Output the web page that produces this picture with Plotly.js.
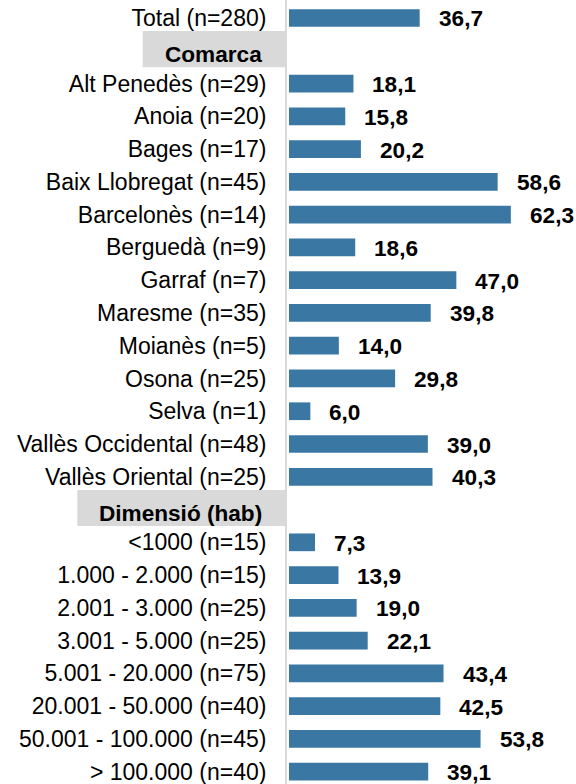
<!DOCTYPE html>
<html>
<head>
<meta charset="utf-8">
<script src="https://cdn.plot.ly/plotly-3.0.1.min.js"></script>
<style>
html,body{margin:0;padding:0;background:#fff;}
#chart{width:576px;height:784px;}
</style>
</head>
<body>
<div id="chart"></div>
<script>
const categories = [
  'Total (n=280)',
  'Comarca',
  'Alt Penedès (n=29)',
  'Anoia (n=20)',
  'Bages (n=17)',
  'Baix Llobregat (n=45)',
  'Barcelonès (n=14)',
  'Berguedà (n=9)',
  'Garraf (n=7)',
  'Maresme (n=35)',
  'Moianès (n=5)',
  'Osona (n=25)',
  'Selva (n=1)',
  'Vallès Occidental (n=48)',
  'Vallès Oriental (n=25)',
  'Dimensió (hab)',
  '<1000 (n=15)',
  '1.000 - 2.000 (n=15)',
  '2.001 - 3.000 (n=25)',
  '3.001 - 5.000 (n=25)',
  '5.001 - 20.000 (n=75)',
  '20.001 - 50.000 (n=40)',
  '50.001 - 100.000 (n=45)',
  '> 100.000 (n=40)'
];
const values = [
  36.7,
  null,
  18.1, 15.8, 20.2, 58.6, 62.3, 18.6, 47.0, 39.8, 14.0, 29.8, 6.0, 39.0, 40.3,
  null,
  7.3, 13.9, 19.0, 22.1, 43.4, 42.5, 53.8, 39.1
];
const headers = ['Comarca', 'Dimensió (hab)'];
const headerBoxLeft = [-0.4993, -0.7256];

const FONT = 'Liberation Sans, Arial, sans-serif';
const FS = 23;
const FS_LBL = 22.6;
const BAR = '#3b77a3';

const tickText = categories.map(c => headers.includes(c) ? '' : c);
const fmt = v => v.toFixed(1).replace('.', ',');

const annotations = [];
categories.forEach((c, i) => {
  if (values[i] !== null) {
    annotations.push({
      x: values[i], y: c, xref: 'x', yref: 'y',
      text: '<b>' + fmt(values[i]) + '</b>',
      showarrow: false, xanchor: 'left', yanchor: 'middle',
      xshift: 17, yshift: -1,
      font: {family: FONT, size: FS_LBL, color: '#000'}
    });
  }
});
const shapes = [];
headers.forEach((h, k) => {
  const idx = categories.indexOf(h);
  shapes.push({
    type: 'rect', xref: 'paper', yref: 'y',
    x0: headerBoxLeft[k], x1: -0.003, y0: idx - 0.6, y1: idx + 0.5,
    fillcolor: '#d9d9d9', line: {width: 0}, layer: 'below'
  });
  annotations.push({
    x: 0, y: idx, xref: 'paper', yref: 'y',
    text: '<b>' + h + '</b>', showarrow: false,
    xanchor: 'right', yanchor: 'middle', xshift: -23, yshift: -4,
    font: {family: FONT, size: FS_LBL, color: '#000'}
  });
});

const trace = {
  type: 'bar', orientation: 'h',
  x: values, y: categories,
  width: 0.54,
  marker: {color: BAR, line: {width: 0}},
  hoverinfo: 'none'
};

const layout = {
  width: 576, height: 784,
  margin: {l: 287, r: 0, t: 0, b: 0, pad: 0},
  paper_bgcolor: '#fff', plot_bgcolor: '#fff',
  showlegend: false,
  font: {family: FONT, size: FS, color: '#000'},
  xaxis: {
    range: [-0.56, 80.6], autorange: false,
    showgrid: false, zeroline: false, showline: false,
    showticklabels: false, ticks: ''
  },
  yaxis: {
    type: 'category',
    categoryorder: 'array', categoryarray: categories,
    tickmode: 'array', tickvals: categories, ticktext: tickText,
    range: [23.375, -0.549], autorange: false,
    showgrid: false, zeroline: false,
    showline: true, linecolor: '#d9d9d9', linewidth: 2,
    ticks: '', ticklabelstandoff: 14,
    tickfont: {family: FONT, size: FS, color: '#000'}
  },
  shapes: shapes,
  annotations: annotations
};

Plotly.newPlot('chart', [trace], layout, {displayModeBar: false, staticPlot: true});
</script>
</body>
</html>
